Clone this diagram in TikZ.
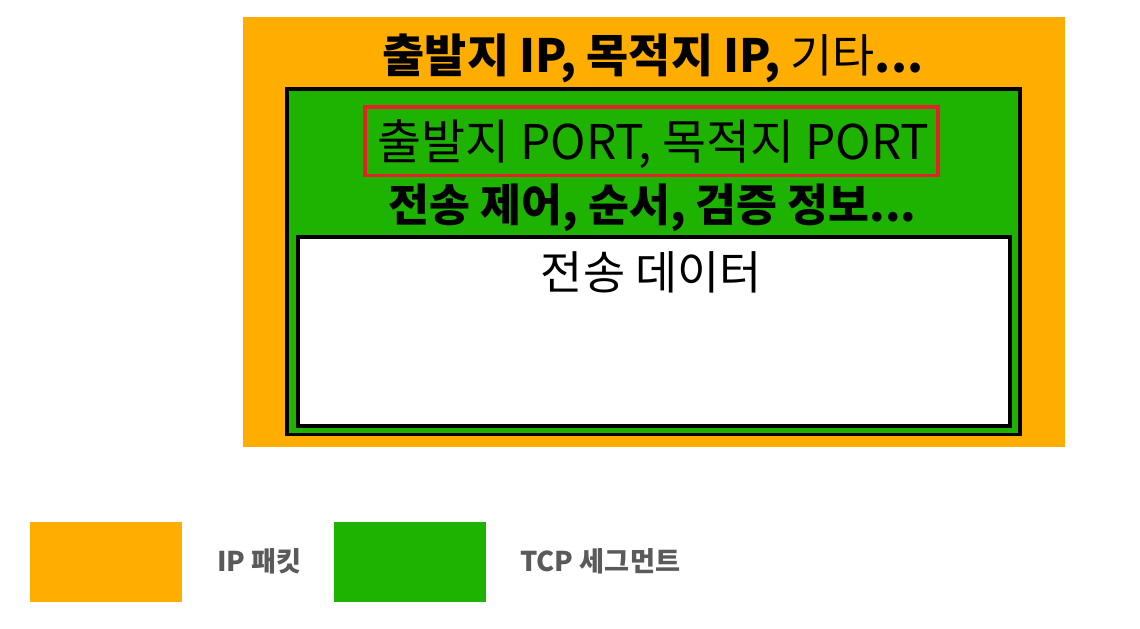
\documentclass[tikz,border=0pt]{standalone}
\usepackage{fontspec}
\setmainfont{Noto Sans CJK KR}
\definecolor{ipOrange}{RGB}{255,174,0}
\definecolor{tcpGreen}{RGB}{29,179,0}
\definecolor{portRed}{RGB}{230,32,40}
\definecolor{keyGray}{RGB}{90,90,90}

\begin{document}
\begin{tikzpicture}[scale=0.2646]
  \tikzstyle{every node}+=[inner sep=0pt]
  \tikzset{head/.style={font=\fontsize{34.5}{38}\selectfont, anchor=base},
    key/.style={font=\fontsize{20.5}{23}\selectfont\bfseries, text=keyGray, anchor=base west}}
  \useasboundingbox (0,0) rectangle (114,-62.9);
  % IP packet
  \fill [ipOrange] (24.3,-1.7) rectangle (106.5,-44.7);
  \draw (65.3,-7.3) node [head] (iphdr) {\textbf{출발지 IP, 목적지 IP,} 기타\textbf{...}};
  % TCP segment
  \draw [black, line width=3pt, fill=tcpGreen] (28.7,-8.9) rectangle (102,-43.45);
  \draw [portRed, line width=3pt] (36.5,-10.7) rectangle (93.8,-17.55);
  \draw (65.35,-16) node [head, font=\fontsize{36}{40}\selectfont] (port) {출발지 PORT, 목적지 PORT};
  \draw (65.25,-22.2) node [head, font=\fontsize{33.5}{37}\selectfont\bfseries] (ctrl) {전송 제어, 순서, 검증 정보...};
  % payload
  \draw [black, line width=3pt, fill=white] (29.8,-23.7) rectangle (101,-42.6);
  \draw (65.15,-29) node [head] (data) {전송 데이터};
  % legend
  \fill [ipOrange] (3,-52.2) rectangle (18.2,-60.2);
  \draw (21.7,-57.1) node [key] (ipkey) {IP 패킷};
  \fill [tcpGreen] (33.4,-52.2) rectangle (48.6,-60.2);
  \draw (52,-57.1) node [key] (tcpkey) {TCP 세그먼트};
\end{tikzpicture}
\end{document}
